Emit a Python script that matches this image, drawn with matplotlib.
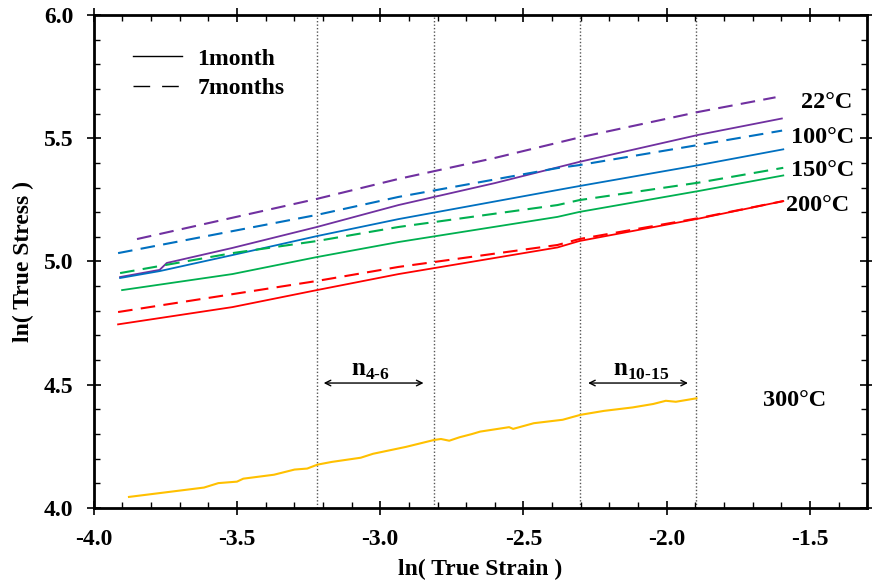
import numpy as np
from matplotlib import pyplot as plt
from matplotlib.lines import Line2D
from matplotlib.ticker import MultipleLocator

plt.rcParams['font.family'] = ['Liberation Serif', 'DejaVu Serif']
plt.rcParams['font.weight'] = 'bold'
plt.rcParams['mathtext.fontset'] = 'custom'
plt.rcParams['mathtext.bf'] = 'Liberation Serif:bold'
plt.rcParams['mathtext.rm'] = 'Liberation Serif:bold'

# 22 C
x22_1 = [-3.908, -3.770, -3.745, -3.516, -3.221, -2.936, -2.600, -2.305, -1.888, -1.598]
y22_1 = [4.937, 4.966, 4.994, 5.055, 5.140, 5.229, 5.318, 5.404, 5.514, 5.580]
x22_7 = [-3.849, -3.221, -2.936, -2.600, -2.305, -1.888, -1.620]
y22_7 = [5.091, 5.254, 5.335, 5.420, 5.503, 5.607, 5.666]
# 100 C
x100_1 = [-3.908, -3.770, -3.516, -3.221, -2.936, -2.381, -2.305, -1.888, -1.593]
y100_1 = [4.933, 4.961, 5.026, 5.103, 5.172, 5.290, 5.306, 5.391, 5.455]
x100_7 = [-3.915, -3.221, -2.936, -2.381, -2.305, -1.888, -1.597]
y100_7 = [5.034, 5.189, 5.262, 5.379, 5.391, 5.473, 5.531]
# 150 C
x150_1 = [-3.901, -3.516, -3.221, -2.936, -2.381, -2.305, -1.888, -1.593]
y150_1 = [4.884, 4.949, 5.018, 5.079, 5.181, 5.201, 5.286, 5.349]
x150_7 = [-3.908, -3.516, -3.221, -2.936, -2.381, -2.305, -1.888, -1.593]
y150_7 = [4.953, 5.034, 5.083, 5.140, 5.229, 5.249, 5.320, 5.380]
# 200 C
x200_1 = [-3.915, -3.516, -3.221, -2.936, -2.381, -2.305, -1.888, -1.593]
y200_1 = [4.745, 4.815, 4.884, 4.949, 5.057, 5.083, 5.174, 5.245]
x200_7 = [-3.915, -3.221, -2.936, -2.381, -2.305, -1.888, -1.593]
y200_7 = [4.795, 4.921, 4.978, 5.067, 5.091, 5.176, 5.245]
# 300 C
x300 = [-3.877, -3.615, -3.565, -3.500, -3.478, -3.371, -3.299, -3.255, -3.219, -3.169,
        -3.068, -3.025, -2.910, -2.812, -2.788, -2.759, -2.723, -2.680, -2.651, -2.550,
        -2.536, -2.464, -2.363, -2.301, -2.219, -2.119, -2.047, -2.003, -1.968, -1.932, -1.896]
y300 = [4.045, 4.083, 4.101, 4.107, 4.119, 4.135, 4.156, 4.160, 4.176, 4.187,
        4.204, 4.220, 4.248, 4.276, 4.280, 4.273, 4.287, 4.300, 4.310, 4.328,
        4.321, 4.344, 4.358, 4.378, 4.394, 4.408, 4.422, 4.435, 4.431, 4.438, 4.445]

strain_lines = [-3.219, -2.813, -2.303, -1.897]

temp_labels = ['22°C', '100°C', '150°C', '200°C', '300°C']
temp_x = [-1.443, -1.455, -1.455, -1.472, -1.555]
temp_y = [5.643, 5.501, 5.371, 5.229, 4.438]

purple, blue, green, red, yellow = '#7030A0', '#0070C0', '#00B050', '#FF0000', '#FFC000'
dash = (0, (7, 4))
fs = 17

fig = plt.figure(figsize=(8.72, 5.85), dpi=100)
ax = fig.add_axes([0.1075, 0.1316, 0.887, 0.8428])

for xv in strain_lines:
    ax.axvline(xv, color='#555555', ls=(0, (1, 1.5)), lw=1.0, zorder=1)

ax.plot(x22_7, y22_7, color=purple, ls=dash, lw=1.5)
ax.plot(x22_1, y22_1, color=purple, lw=1.3)
ax.plot(x100_7, y100_7, color=blue, ls=dash, lw=1.5)
ax.plot(x100_1, y100_1, color=blue, lw=1.3)
ax.plot(x150_7, y150_7, color=green, ls=dash, lw=1.5)
ax.plot(x150_1, y150_1, color=green, lw=1.3)
ax.plot(x200_7, y200_7, color=red, ls=dash, lw=1.5)
ax.plot(x200_1, y200_1, color=red, lw=1.3)
ax.plot(x300, y300, color=yellow, lw=1.5)

# arrows
ax.annotate('', xy=(-3.207, 4.507), xytext=(-2.839, 4.507),
            arrowprops=dict(arrowstyle='<->', color='black', lw=1.0))
ax.annotate('', xy=(-2.284, 4.507), xytext=(-1.916, 4.507),
            arrowprops=dict(arrowstyle='<->', color='black', lw=1.0))
ax.text(-3.035, 4.513, r'$\mathbf{n}_{\mathbf{4\text{-}6}}$', ha='center', va='bottom', fontsize=18)
ax.text(-2.089, 4.513, r'$\mathbf{n}_{\mathbf{10\text{-}15}}$', ha='center', va='bottom', fontsize=18)

for tx, ty, s in zip(temp_x, temp_y, temp_labels):
    ax.text(tx, ty, s, ha='center', va='center', fontsize=fs + 0.5, fontweight='bold')

handles = [Line2D([], [], color='black', lw=1.0),
           Line2D([], [], color='black', lw=1.0, ls=(0, (12, 8.6)))]
ax.legend(handles, ['1month', '7months'], loc='upper left', bbox_to_anchor=(0.0508, 0.933),
          frameon=False, handlelength=2.08, handletextpad=0.64, borderpad=0,
          borderaxespad=0, prop={'size': fs, 'weight': 'bold'}, labelspacing=0.33)

ax.set_xlim(-4.0, -1.3)
ax.set_ylim(4.0, 6.0)
ax.xaxis.set_major_locator(MultipleLocator(0.5))
ax.xaxis.set_minor_locator(MultipleLocator(0.1))
ax.yaxis.set_major_locator(MultipleLocator(0.5))
ax.yaxis.set_minor_locator(MultipleLocator(0.1))
ax.xaxis.set_major_formatter(lambda v, p: f'{v:.1f}')
ax.yaxis.set_major_formatter(lambda v, p: f'{v:.1f}')
ax.tick_params(which='major', direction='inout', length=9.6, width=1.2,
               top=True, right=True, labelsize=fs)
ax.tick_params(axis='x', which='major', pad=10)
ax.tick_params(axis='y', which='major', pad=10)
ax.tick_params(which='minor', direction='in', length=4.5, width=1.0, top=True, right=True)
for s in ax.spines.values():
    s.set_linewidth(2.0)

ax.set_xlabel('ln( True Strain )', fontsize=fs, fontweight='bold', labelpad=7)
ax.set_ylabel('ln( True Stress )', fontsize=fs, fontweight='bold', labelpad=7)

fig.savefig('out.png', dpi=100)
